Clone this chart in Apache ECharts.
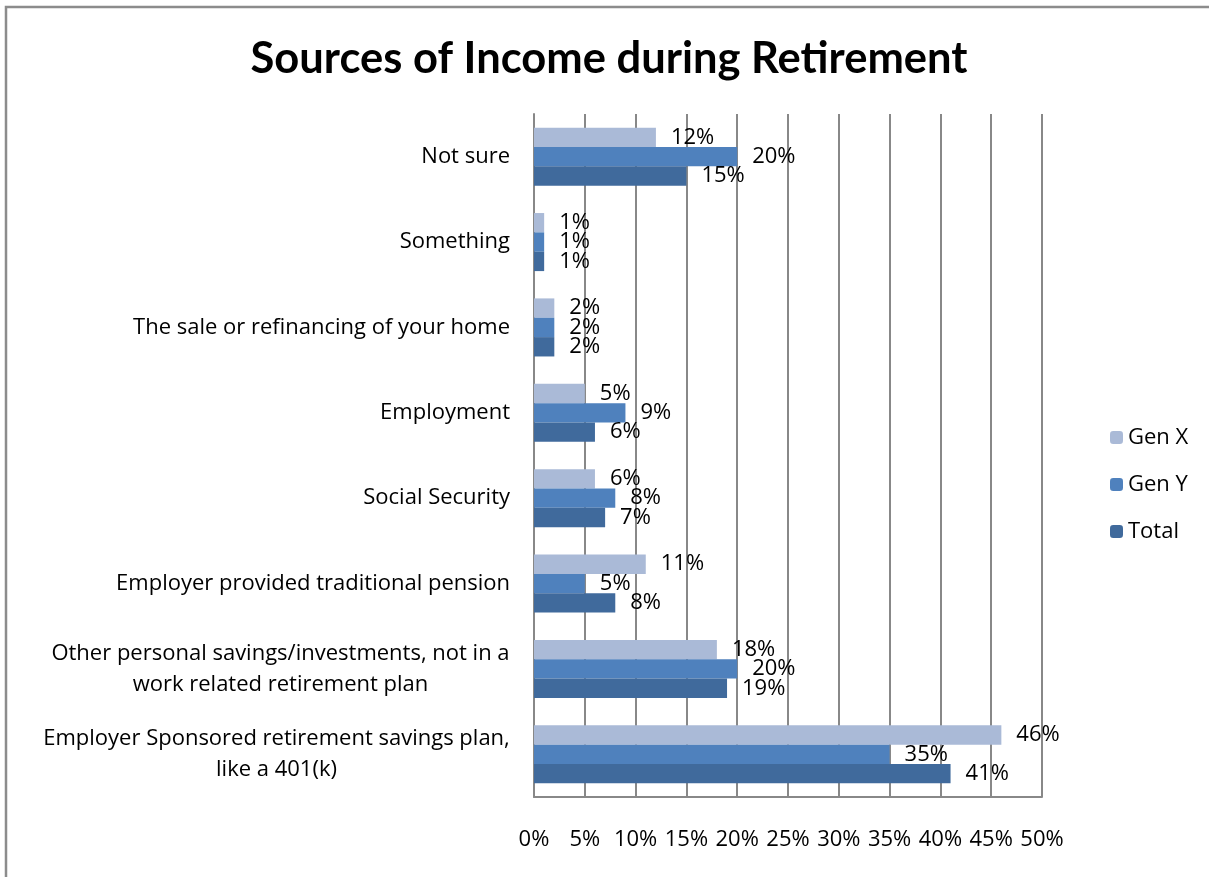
<!DOCTYPE html>
<html>
<head>
<meta charset="utf-8">
<title>Sources of Income during Retirement</title>
<script src="https://cdn.jsdelivr.net/npm/echarts@6/dist/echarts.min.js"></script>
<style>
  html, body { margin: 0; padding: 0; background: #fff; }
  #chart { width: 1209px; height: 877px; }
</style>
</head>
<body>
<div id="chart"></div>
<script>
// categories, top to bottom as in the picture
var categories = [
    'Not sure',
    'Something',
    'The sale or refinancing of your home',
    'Employment',
    'Social Security',
    'Employer provided traditional pension',
    'Other personal savings/investments, not in a\nwork related retirement plan',
    'Employer Sponsored retirement savings plan,\nlike a 401(k)'
];
var genX  = [12, 1, 2, 5, 6, 11, 18, 46];
var genY  = [20, 1, 2, 9, 8, 5, 20, 35];
var total = [15, 1, 2, 6, 7, 8, 19, 41];
var seriesNames = ['Gen X', 'Gen Y', 'Total'];
var colors = ['#aabad7', '#4f81bd', '#406a9c'];

var FONT = 'Open Sans';
var FS = 22;

var chart = echarts.init(document.getElementById('chart'));

// two-line labels: block sits right of the axis, lines centred inside it
var ctx = document.createElement('canvas').getContext('2d');
ctx.font = FS + 'px "' + FONT + '"';
var rich = {};
categories.forEach(function (c, i) {
    if (c.indexOf('\n') < 0) return;
    var w = 0;
    c.split('\n').forEach(function (s) { w = Math.max(w, ctx.measureText(s).width); });
    rich['m' + i] = { width: Math.ceil(w), align: 'center', fontFamily: FONT, fontSize: FS, color: '#000', lineHeight: 31 };
});

function makeSeries(name, data, color) {
    return {
        name: name,
        type: 'bar',
        data: data,
        barGap: '0%',
        barCategoryGap: '32%',
        itemStyle: { color: color },
        label: {
            show: true,
            position: 'right',
            distance: 15,
            formatter: '{c}%',
            fontFamily: FONT,
            fontSize: FS,
            color: '#000'
        }
    };
}

var option = {
    backgroundColor: '#fff',
    animation: false,
    color: colors,
    title: {
        text: 'Sources of Income during Retirement',
        left: 604,
        textAlign: 'center',
        top: 32,
        textStyle: { fontFamily: 'Lato', fontWeight: 'bold', fontSize: 43.5, color: '#000' }
    },
    legend: {
        orient: 'vertical',
        left: 1105,
        top: 419,
        itemWidth: 13,
        itemHeight: 13,
        itemGap: 20,
        data: seriesNames,
        textStyle: { fontFamily: FONT, fontSize: FS, color: '#000', lineHeight: 27 }
    },
    grid: { left: 534, right: 167, top: 114, bottom: 80 },
    xAxis: {
        type: 'value',
        min: 0,
        max: 50,
        interval: 5,
        axisLine: { show: true, lineStyle: { color: '#888', width: 2 } },
        axisTick: { show: false },
        axisLabel: { formatter: '{value}%', margin: 32, fontFamily: FONT, fontSize: FS, color: '#000' },
        splitLine: { show: true, lineStyle: { color: '#888', width: 2 } }
    },
    yAxis: {
        type: 'category',
        inverse: true,
        data: categories,
        axisLine: { show: true, lineStyle: { color: '#888', width: 2 } },
        axisTick: { show: false },
        axisLabel: {
            margin: 24,
            fontFamily: FONT,
            fontSize: FS,
            color: '#000',
            lineHeight: 31,
            formatter: function (v, i) {
                if (v.indexOf('\n') < 0) return v;
                return v.split('\n').map(function (s) { return '{m' + i + '|' + s + '}'; }).join('\n');
            },
            rich: rich
        }
    },
    graphic: [{
        type: 'rect',
        shape: { x: 6, y: 7, width: 1400, height: 1000 },
        style: { fill: 'none', stroke: '#8c8c8c', lineWidth: 2.5 },
        silent: true
    }],
    series: [
        makeSeries(seriesNames[0], genX, colors[0]),
        makeSeries(seriesNames[1], genY, colors[1]),
        makeSeries(seriesNames[2], total, colors[2])
    ]
};

chart.setOption(option);
</script>
</body>
</html>
